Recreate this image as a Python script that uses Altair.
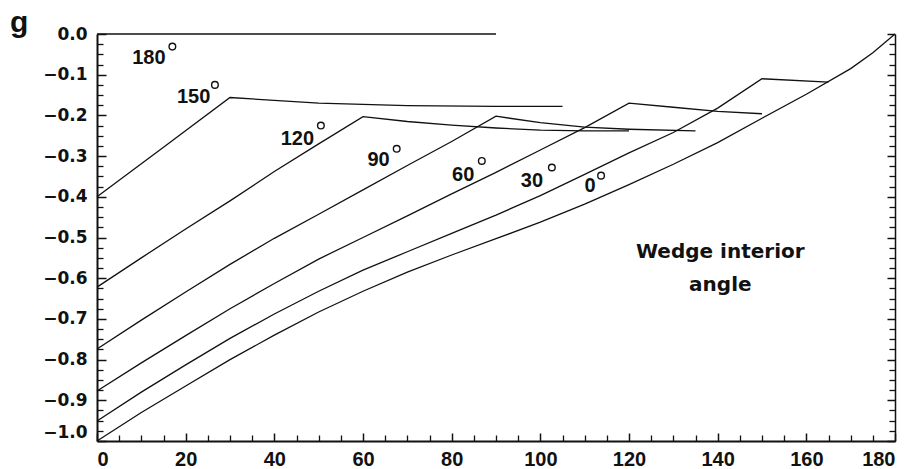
import altair as alt
import pandas as pd

# ---- data: curves per wedge interior angle (x in degrees, y value) ----
x_180 = [0, 90]
y_180 = [0.0, 0.0]

x_150 = [0, 15, 30, 50, 70, 90, 105]
y_150 = [-0.400, -0.278, -0.156, -0.170, -0.176, -0.178, -0.178]

x_120 = [0, 10, 20, 30, 40, 50, 60, 70, 80, 90, 100, 110, 120]
y_120 = [-0.622, -0.550, -0.479, -0.410, -0.338, -0.270, -0.203,
         -0.215, -0.224, -0.231, -0.236, -0.238, -0.238]

x_90 = [0, 10, 20, 30, 40, 50, 60, 70, 80, 90, 100, 110, 120, 135]
y_90 = [-0.774, -0.703, -0.634, -0.566, -0.502, -0.443, -0.383, -0.323,
        -0.264, -0.202, -0.218, -0.229, -0.234, -0.238]

x_60 = [0, 10, 20, 30, 40, 50, 60, 70, 80, 90, 100, 110, 120, 130, 140, 150]
y_60 = [-0.877, -0.808, -0.741, -0.675, -0.613, -0.553, -0.500, -0.447,
        -0.393, -0.340, -0.285, -0.230, -0.170, -0.180, -0.190, -0.196]

x_30 = [0, 10, 20, 30, 40, 50, 60, 70, 80, 90, 100, 110, 120, 130, 140, 150, 165]
y_30 = [-0.951, -0.880, -0.813, -0.748, -0.688, -0.632, -0.580, -0.535,
        -0.490, -0.445, -0.397, -0.345, -0.292, -0.242, -0.182, -0.110, -0.118]

x_0 = [0, 10, 20, 30, 40, 50, 60, 70, 80, 90, 100, 110, 120, 130, 140, 150,
       160, 170, 175, 180]
y_0 = [-1.000, -0.930, -0.865, -0.800, -0.740, -0.683, -0.632, -0.585,
       -0.543, -0.503, -0.462, -0.418, -0.370, -0.320, -0.267, -0.207,
       -0.148, -0.085, -0.046, 0.000]

series_names = ["180", "150", "120", "90", "60", "30", "0"]
series_x = [x_180, x_150, x_120, x_90, x_60, x_30, x_0]
series_y = [y_180, y_150, y_120, y_90, y_60, y_30, y_0]

# curve labels (text, anchor in data units) and degree-circle anchors
label_text = ["180", "150", "120", "90", "60", "30", "0"]
label_x = [11.7, 21.8, 45.2, 63.5, 82.6, 98.1, 111.2]
label_y = [-0.058, -0.154, -0.257, -0.310, -0.346, -0.361, -0.373]
deg_x = [17.0, 26.6, 50.5, 67.6, 86.8, 102.6, 113.7]
deg_y = [-0.031, -0.125, -0.225, -0.282, -0.312, -0.328, -0.348]

note_text = ["Wedge interior", "angle"]
note_x = [140.6, 140.6]
note_y = [-0.535, -0.617]

# panel letter (anchor in data units, left of the y axis)
panel_text = ["g"]
panel_x = [-19.6]
panel_y = [0.006]

# axis ticks
x_major = [0, 20, 40, 60, 80, 100, 120, 140, 160, 180]
x_minor = [v for v in range(0, 181, 5) if v % 20 != 0]
y_major = [0.0, -0.1, -0.2, -0.3, -0.4, -0.5, -0.6, -0.7, -0.8, -0.9, -1.0]
y_minor = [-(i * 0.025) for i in range(0, 41) if i % 4 != 0]

rows = []
for name, xs, ys in zip(series_names, series_x, series_y):
    for xv, yv in zip(xs, ys):
        rows.append({"series": name, "x": xv, "y": yv})
df = pd.DataFrame(rows)
labels_df = pd.DataFrame({"text": label_text, "x": label_x, "y": label_y})
deg_df = pd.DataFrame({"x": deg_x, "y": deg_y})
note_df = pd.DataFrame({"text": note_text, "x": note_x, "y": note_y})
panel_df = pd.DataFrame({"text": panel_text, "x": panel_x, "y": panel_y})

INK = "#111111"
xscale = alt.Scale(domain=[0, 180], nice=False, zero=False)
yscale = alt.Scale(domain=[-1, 0], nice=False, zero=False)


def ax(orient, values, **kw):
    base = dict(orient=orient, values=values, grid=False, title=None,
                domainColor=INK, tickColor=INK, labelColor=INK)
    base.update(kw)
    return alt.Axis(**base)


lines = alt.Chart(df).mark_line(color=INK, strokeWidth=1.3).encode(
    x=alt.X("x:Q", scale=xscale,
            axis=ax("bottom", x_major, ticks=False, domainWidth=2,
                    labelFont="Liberation Sans", labelFontSize=20,
                    labelFontWeight="bold", labelPadding=8, format="d")),
    y=alt.Y("y:Q", scale=yscale,
            axis=ax("left", y_major, ticks=False, domainWidth=2,
                    labelFont="DejaVu Sans", labelFontSize=17,
                    labelFontWeight="bold", labelPadding=10, format=".1f",
                    labelBaseline={"condition": {"test": "datum.value <= -0.99",
                                                 "value": "bottom"},
                                   "value": "middle"})),
    detail="series:N",
)

ticks_major = alt.Chart(df).mark_point(opacity=0).encode(
    x=alt.X("x:Q", scale=xscale,
            axis=ax("bottom", x_major, offset=-8, tickSize=8, tickWidth=1.5,
                    domain=False, labels=False)),
    y=alt.Y("y:Q", scale=yscale,
            axis=ax("left", y_major, offset=-9, tickSize=9, tickWidth=1.5,
                    domain=False, labels=False)),
)

ticks_minor = alt.Chart(df).mark_point(opacity=0).encode(
    x=alt.X("x:Q", scale=xscale,
            axis=ax("bottom", x_minor, offset=-6, tickSize=6, tickWidth=1.3,
                    domain=False, labels=False)),
    y=alt.Y("y:Q", scale=yscale,
            axis=ax("left", y_minor, offset=-6, tickSize=6, tickWidth=1.3,
                    domain=False, labels=False)),
)

right_domain = alt.Chart(df).mark_point(opacity=0).encode(
    x=alt.X("x:Q", scale=xscale, axis=None),
    y=alt.Y("y:Q", scale=yscale,
            axis=ax("right", y_major, ticks=False, labels=False, domainWidth=1.5)),
)

right_major = alt.Chart(df).mark_point(opacity=0).encode(
    x=alt.X("x:Q", scale=xscale, axis=None),
    y=alt.Y("y:Q", scale=yscale,
            axis=ax("right", y_major, offset=-8, tickSize=8, tickWidth=1.5,
                    domain=False, labels=False)),
)

right_minor = alt.Chart(df).mark_point(opacity=0).encode(
    x=alt.X("x:Q", scale=xscale, axis=None),
    y=alt.Y("y:Q", scale=yscale,
            axis=ax("right", y_minor, offset=-6, tickSize=6, tickWidth=1.3,
                    domain=False, labels=False)),
)

curve_labels = alt.Chart(labels_df).mark_text(
    font="Liberation Sans", fontSize=20, fontWeight="bold", color=INK,
    align="center", baseline="middle"
).encode(
    x=alt.X("x:Q", scale=xscale, axis=None),
    y=alt.Y("y:Q", scale=yscale, axis=None),
    text="text:N",
)

degrees = alt.Chart(deg_df).mark_point(
    shape="circle", filled=False, size=44, strokeWidth=1.4, color=INK, opacity=1
).encode(
    x=alt.X("x:Q", scale=xscale, axis=None),
    y=alt.Y("y:Q", scale=yscale, axis=None),
)

note = alt.Chart(note_df).mark_text(
    font="DejaVu Sans", fontSize=20, fontWeight="bold", color=INK,
    align="center", baseline="middle"
).encode(
    x=alt.X("x:Q", scale=xscale, axis=None),
    y=alt.Y("y:Q", scale=yscale, axis=None),
    text="text:N",
)

panel = alt.Chart(panel_df).mark_text(
    font="Liberation Sans", fontSize=30, fontWeight="bold", color=INK,
    align="left", baseline="alphabetic"
).encode(
    x=alt.X("x:Q", scale=xscale, axis=None),
    y=alt.Y("y:Q", scale=yscale, axis=None),
    text="text:N",
)

chart = alt.layer(
    lines, ticks_major, ticks_minor, right_domain, right_major, right_minor,
    curve_labels, degrees, note, panel
).resolve_axis(
    x="independent", y="independent"
).properties(
    width=798, height=407,
    autosize=alt.AutoSizeParams(type="none"),
    padding={"left": 97, "top": 34, "right": 20, "bottom": 28},
    background="white",
).configure_view(stroke=None)

chart.save("out.html", embed_options={"renderer": "svg", "actions": False})
